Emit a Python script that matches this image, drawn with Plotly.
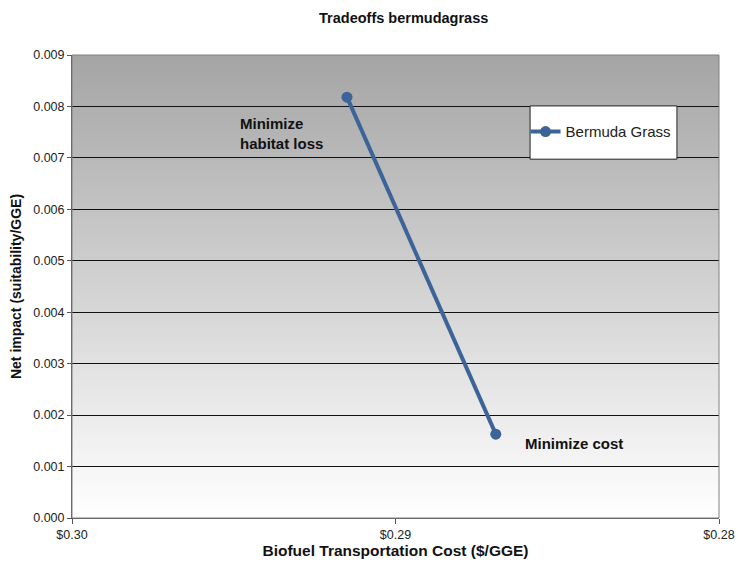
import plotly.graph_objects as go

# Data
series_name = "Bermuda Grass"
cost = [0.2915, 0.2869]
impact = [0.00818, 0.00163]
point_labels = ["Minimize<br>habitat loss", "Minimize cost"]
label_x = [0.29487, 0.28606]
label_y = [0.00748, 0.00144]
x_ticks = [0.30, 0.29, 0.28]
x_tick_labels = ["$0.30", "$0.29", "$0.28"]
y_ticks = [0.000, 0.001, 0.002, 0.003, 0.004, 0.005, 0.006, 0.007, 0.008, 0.009]
y_tick_labels = ["%.3f" % v for v in y_ticks]

FONT = "Liberation Sans, Arial, sans-serif"
LINE = "#3d6499"

fig = go.Figure()
fig.add_trace(go.Scatter(
    x=cost, y=impact, mode="lines+markers", name=series_name,
    line=dict(color=LINE, width=4),
    marker=dict(color=LINE, size=11),
))

# gradient background (overlapping strips to avoid seams)
shapes = []
n = 120
top = (165, 165, 165)
bot = (255, 255, 255)
for i in range(n):
    t = i / (n - 1)
    c = tuple(int(round(top[k] + (bot[k] - top[k]) * t)) for k in range(3))
    y1 = 1 - i / n
    y0 = max(0, 1 - (i + 1) / n - 0.006)
    shapes.append(dict(type="rect", xref="x domain", yref="y domain",
                       x0=0, x1=1, y0=y0, y1=y1, layer="below",
                       line=dict(width=0), fillcolor="rgb(%d,%d,%d)" % c))
shapes.append(dict(type="rect", xref="x domain", yref="y domain",
                   x0=0, x1=1, y0=0, y1=1, layer="above",
                   line=dict(width=1, color="#808080")))
# legend box
shapes.append(dict(type="rect", xref="paper", yref="paper",
                   x0=0.708, x1=0.935, y0=0.775, y1=0.890, layer="above",
                   fillcolor="white", line=dict(width=1, color="#222")))

annotations = [
    dict(x=label_x[i], y=label_y[i], xref="x", yref="y", text="<b>" + point_labels[i] + "</b>",
         showarrow=False, xanchor="left", yanchor="middle", align="left",
         font=dict(family=FONT, size=15, color="#111"))
    for i in range(len(point_labels))
]

fig.update_layout(
    width=738, height=569,
    margin=dict(l=72, r=19, t=55, b=51),
    paper_bgcolor="white", plot_bgcolor="white",
    font=dict(family=FONT, size=12, color="#222"),
    title=dict(text="<b>Tradeoffs bermudagrass</b>", x=0.547, xanchor="center",
               y=0.969, yanchor="middle", automargin=False,
               font=dict(family=FONT, size=14.5, color="#111")),
    showlegend=True,
    legend=dict(x=0.701, y=0.834, xanchor="left", yanchor="middle",
                bgcolor="rgba(0,0,0,0)", borderwidth=0,
                font=dict(family=FONT, size=15, color="#222"),
                itemwidth=30, tracegroupgap=0),
    shapes=shapes,
    annotations=annotations,
)
fig.update_xaxes(
    range=[0.30, 0.28], tickvals=x_ticks, ticktext=x_tick_labels, automargin=False,
    showgrid=False, zeroline=False, showline=True, linecolor="#555", linewidth=1,
    ticks="outside", ticklen=5, tickcolor="#555",
    tickfont=dict(family=FONT, size=12.5, color="#222"),
    title=dict(text="<b>Biofuel Transportation Cost ($/GGE)</b>", standoff=3,
               font=dict(family=FONT, size=15.5, color="#111")),
)
fig.update_yaxes(
    range=[0, 0.009], tickvals=y_ticks, ticktext=y_tick_labels, automargin=False,
    showgrid=True, gridcolor="#111", gridwidth=1, zeroline=False,
    showline=True, linecolor="#555", linewidth=1,
    ticks="outside", ticklen=4, tickcolor="#555",
    tickfont=dict(family=FONT, size=12.5, color="#222"),
    title=dict(text="<b>Net impact (suitability/GGE)</b>", standoff=8,
               font=dict(family=FONT, size=14, color="#111")),
)

fig.write_html("out.html", config={"displayModeBar": False},
               post_script="document.body.style.margin='0';document.body.style.overflow='hidden';")
